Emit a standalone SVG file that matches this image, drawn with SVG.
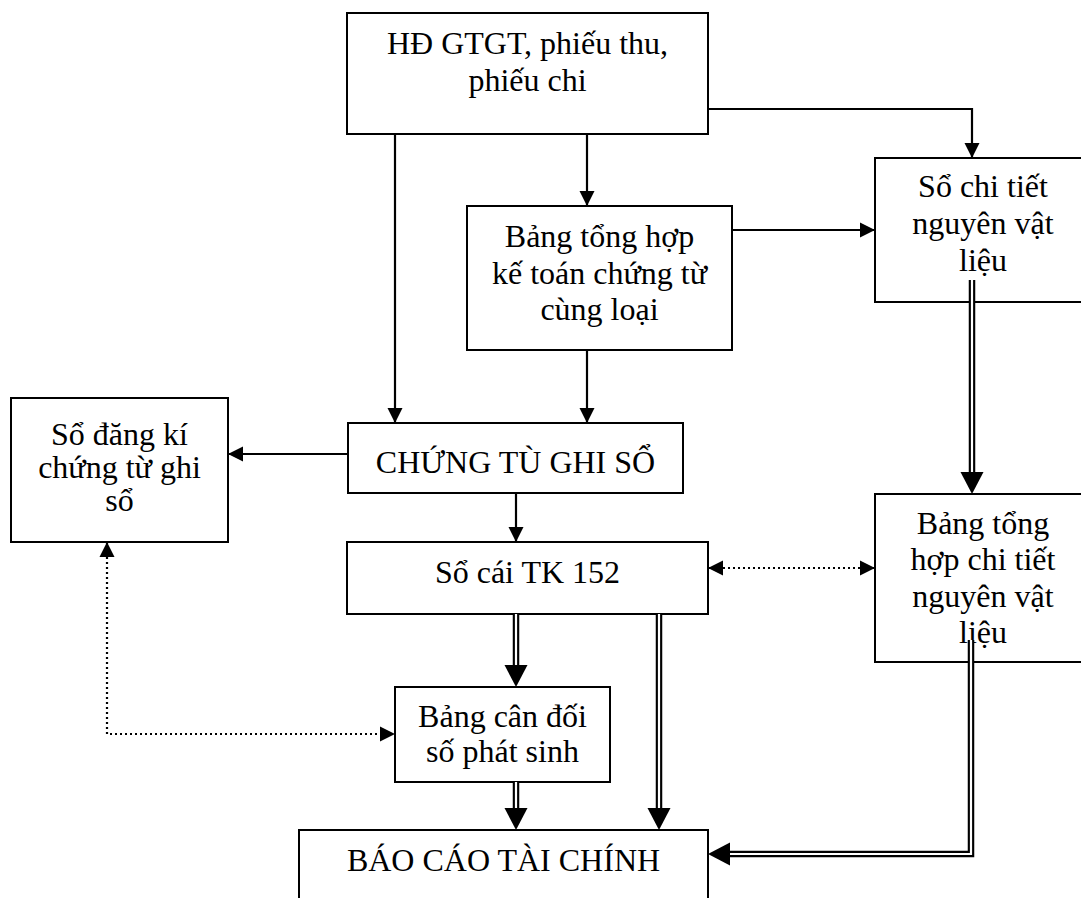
<svg xmlns="http://www.w3.org/2000/svg" width="1081" height="898" viewBox="0 0 1081 898">
<style>
.box{fill:#fff;stroke:#000;stroke-width:2}
.t{font-family:"Liberation Serif","Times New Roman",serif;font-size:32px;fill:#000;text-anchor:middle}
.ln{fill:none;stroke:#000;stroke-width:2.2}
.dl{fill:none;stroke:#000;stroke-width:6.5}
.dw{fill:none;stroke:#fff;stroke-width:2.2}
.dot{fill:none;stroke:#000;stroke-width:2.2;stroke-dasharray:2 3}
</style>
<defs>
<marker id="a" markerUnits="userSpaceOnUse" markerWidth="15" markerHeight="15" refX="15" refY="7.5" orient="auto" overflow="visible"><path d="M0,0 L15,7.5 L0,15 z" fill="#000"/></marker>
<marker id="ad" markerUnits="userSpaceOnUse" markerWidth="15" markerHeight="15" refX="15" refY="7.5" orient="auto-start-reverse" overflow="visible"><path d="M0,0 L15,7.5 L0,15 z" fill="#000"/></marker>
<marker id="b" markerUnits="userSpaceOnUse" markerWidth="23" markerHeight="23" refX="0" refY="11.5" orient="auto" overflow="visible"><path d="M0,0 L22,11.5 L0,23 z" fill="#000"/></marker>
</defs>
<rect width="1081" height="898" fill="#fff"/>
<g id="n-top"><rect class="box" x="347" y="13" width="361" height="121"/><text class="t" x="527.5" y="54">HĐ GTGT, phiếu thu,</text><text class="t" x="527.5" y="91">phiếu chi</text></g>
<g id="n-sochitiet"><rect class="box" x="875" y="158" width="230" height="144"/><text class="t" x="983" y="197">Sổ chi tiết</text><text class="t" x="983" y="234">nguyên vật</text><text class="t" x="983" y="271">liệu</text></g>
<g id="n-bangtonghop"><rect class="box" x="467" y="206" width="265" height="144"/><text class="t" x="599.5" y="247">Bảng tổng hợp</text><text class="t" x="599.5" y="284">kế toán chứng từ</text><text class="t" x="599.5" y="320">cùng loại</text></g>
<g id="n-sodangki"><rect class="box" x="11" y="398" width="217" height="144"/><text class="t" x="119.5" y="445">Sổ đăng kí</text><text class="t" x="119.5" y="478">chứng từ ghi</text><text class="t" x="119.5" y="511">sổ</text></g>
<g id="n-chungtu"><rect class="box" x="348" y="423" width="335" height="70"/><text class="t" x="515.5" y="473">CHỨNG TÙ GHI SỔ</text></g>
<g id="n-socai"><rect class="box" x="347" y="542" width="361" height="72"/><text class="t" x="527.5" y="583">Sổ cái TK 152</text></g>
<g id="n-bangtonghopct"><rect class="box" x="875" y="494" width="230" height="168"/><text class="t" x="983" y="534">Bảng tổng</text><text class="t" x="983" y="570">hợp chi tiết</text><text class="t" x="983" y="607">nguyên vật</text><text class="t" x="983" y="643">liệu</text></g>
<g id="n-bangcandoi"><rect class="box" x="395" y="687" width="215" height="95"/><text class="t" x="502.5" y="727">Bảng cân đối</text><text class="t" x="502.5" y="762">số phát sinh</text></g>
<g id="n-baocao"><rect class="box" x="299" y="830" width="409" height="90"/><text class="t" x="503.5" y="871">BÁO CÁO TÀI CHÍNH</text></g>
<g id="connectors">
<path class="ln" d="M708,109 H972 V158" marker-end="url(#a)"/>
<path class="ln" d="M587,134 V206" marker-end="url(#a)"/>
<path class="ln" d="M395,134 V423" marker-end="url(#a)"/>
<path class="ln" d="M732,230 H875" marker-end="url(#a)"/>
<path class="ln" d="M587,350 V423" marker-end="url(#a)"/>
<path class="ln" d="M348,454 H228" marker-end="url(#a)"/>
<path class="ln" d="M516,493 V542" marker-end="url(#a)"/>
<path class="dl" d="M516,614 V665" marker-end="url(#b)"/><path class="dw" d="M516,614 V665"/>
<path class="dl" d="M516,782 V808" marker-end="url(#b)"/><path class="dw" d="M516,782 V808"/>
<path class="dl" d="M659,614 V808" marker-end="url(#b)"/><path class="dw" d="M659,614 V808"/>
<path class="dl" d="M972,280 V472" marker-end="url(#b)"/><path class="dw" d="M972,280 V472"/>
<path class="dl" d="M971,640 V854 H730" marker-end="url(#b)"/><path class="dw" d="M971,640 V854 H730"/>
<path class="dot" d="M708,568 H875" marker-start="url(#ad)" marker-end="url(#ad)"/>
<path class="dot" d="M107,542 V734 H395" marker-start="url(#ad)" marker-end="url(#ad)"/>
</g>
</svg>
